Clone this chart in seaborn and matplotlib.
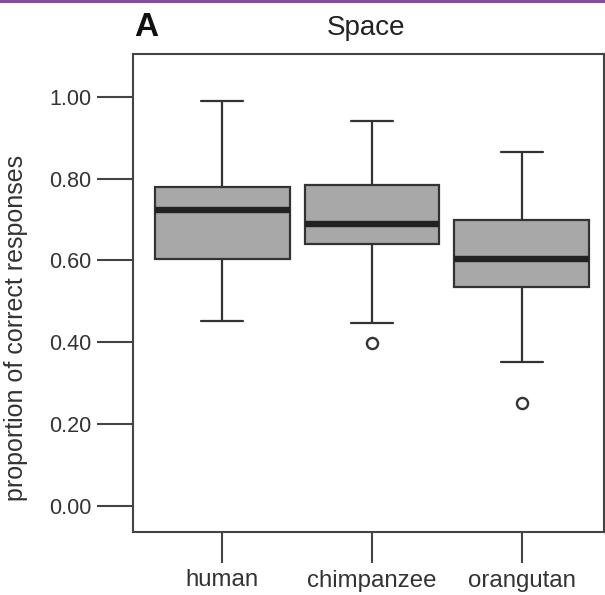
import numpy as np
import pandas as pd
import matplotlib
matplotlib.use("Agg")
import matplotlib.pyplot as plt
from matplotlib.patches import Rectangle
import seaborn as sns

# box summaries
species = ["human", "chimpanzee", "orangutan"]
whisker_low = [0.452, 0.447, 0.352]
q1 = [0.604, 0.641, 0.536]
median = [0.724, 0.689, 0.604]
q3 = [0.780, 0.785, 0.699]
whisker_high = [0.991, 0.942, 0.866]
outlier = [None, 0.399, 0.252]

y_ticks = [0.0, 0.2, 0.4, 0.6, 0.8, 1.0]
y_tick_labels = ["0.00", "0.20", "0.40", "0.60", "0.80", "1.00"]

# 9 values per group -> quartiles land exactly on q1 / median / q3
rows = []
for i, sp in enumerate(species):
    first = outlier[i] if outlier[i] is not None else whisker_low[i]
    vals = [first, whisker_low[i], q1[i], q1[i], median[i],
            q3[i], q3[i], whisker_high[i], whisker_high[i]]
    rows += [(sp, v) for v in vals]
df = pd.DataFrame(rows, columns=["species", "value"])

sns.set_theme(style="ticks")
plt.rcParams["font.family"] = ["Liberation Sans", "DejaVu Sans"]

W, H = 605, 595
fig = plt.figure(figsize=(W / 100, H / 100), dpi=100)
ax = fig.add_axes([133 / W, 1 - 532 / H, (604 - 133) / W, (532 - 54) / H])

edge = "#333333"
sns.boxplot(
    data=df, x="species", y="value", order=species, ax=ax,
    width=0.9, color="#a8a8a8", saturation=1, linecolor=edge, linewidth=1.6,
    capwidths=0.28,
    medianprops=dict(color="#222222", linewidth=4.6),
    flierprops=dict(marker="o", markersize=8, markerfacecolor="white",
                    markeredgecolor=edge, markeredgewidth=1.7),
)

ax.set_xlim(-0.595, 2.548)
ax.set_ylim(-0.064, 1.105)
ax.set_yticks(y_ticks)
ax.set_yticklabels(y_tick_labels)
ax.set_xlabel("")
ax.set_ylabel("proportion of correct responses", fontsize=18, color="#333333")
ax.yaxis.set_label_coords(-0.222, 0.427)

for s in ax.spines.values():
    s.set_visible(True)
    s.set_color("#444444")
    s.set_linewidth(1.5)

ax.tick_params(axis="y", length=26, width=1.5, pad=4, labelsize=15.5,
               color="#444444", labelcolor="#333333")
ax.tick_params(axis="x", length=22, width=1.5, pad=5, labelsize=17.3,
               color="#444444", labelcolor="#333333")

fig.text(366 / W, 1 - 35 / H, "Space", ha="center", va="baseline",
         fontsize=20, color="#222222")
fig.text(134 / W, 1 - 36 / H, "A", ha="left", va="baseline",
         fontsize=24, fontweight="bold", color="#111111")

# purple strip along the top edge
fig.add_artist(Rectangle((0, 1 - 3 / H), 1, 3 / H, transform=fig.transFigure,
                         facecolor="#8e44b0", edgecolor="none"))

fig.savefig("out.png", dpi=100)
plt.close(fig)
